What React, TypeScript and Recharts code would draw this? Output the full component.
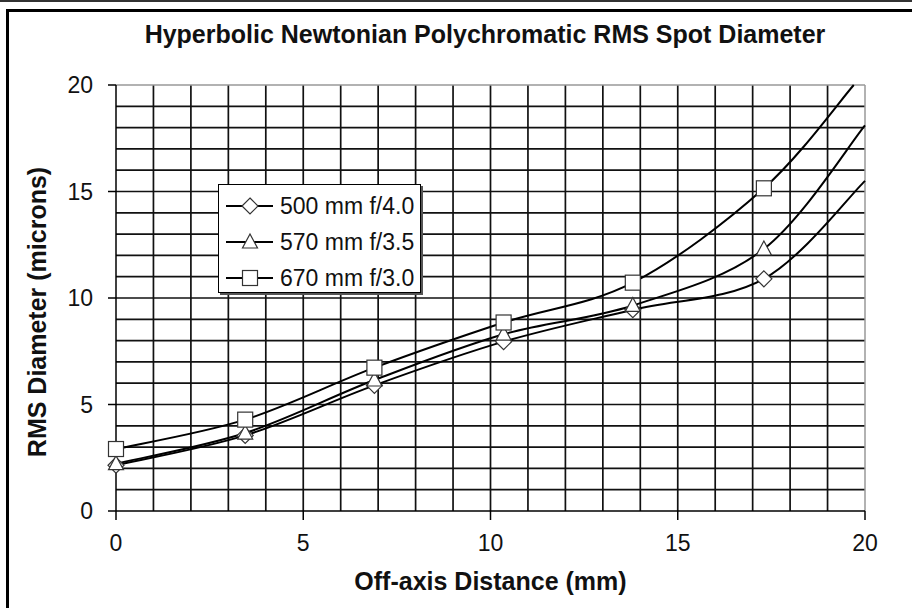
import React from 'react';
import { LineChart, Line, XAxis, YAxis, ReferenceLine, Legend, Label } from 'recharts';

const FONT = '"Liberation Sans", Arial, Helvetica, sans-serif';

// Off-axis distance (mm) of each traced field point; the last entry is where the curve leaves the plot frame
const x500 = [0, 3.45, 6.9, 10.35, 13.8, 17.3, 20];
const y500 = [2.15, 3.55, 5.9, 7.95, 9.45, 10.9, 15.5];
const x570 = [0, 3.45, 6.9, 10.35, 13.8, 17.3, 20];
const y570 = [2.22, 3.66, 6.15, 8.3, 9.65, 12.3, 18.1];
const x670 = [0, 3.45, 6.9, 10.35, 13.8, 17.3, 19.7];
const y670 = [2.91, 4.29, 6.73, 8.85, 10.72, 15.15, 20];
const markerCount = 6;

const seriesNames = ['500 mm f/4.0', '570 mm f/3.5', '670 mm f/3.0'];
const seriesShapes = ['diamond', 'triangle', 'square'];

const xTicks = [0, 5, 10, 15, 20];
const yTicks = [0, 5, 10, 15, 20];
const gridX = [1, 2, 3, 4, 5, 6, 7, 8, 9, 10, 11, 12, 13, 14, 15, 16, 17, 18, 19];
const gridY = [1, 2, 3, 4, 5, 6, 7, 8, 9, 10, 11, 12, 13, 14, 15, 16, 17, 18, 19];

const toRows = (xs: number[], ys: number[]) => xs.map((x, i) => ({ x, y: ys[i] }));
const data500 = toRows(x500, y500);
const data570 = toRows(x570, y570);
const data670 = toRows(x670, y670);

// Spreadsheet-style smoothed line (Catmull-Rom through the points)
function smoothCurve(context: any) {
  let pts: [number, number][] = [];
  return {
    areaStart() {},
    areaEnd() {},
    lineStart() {
      pts = [];
    },
    point(x: number, y: number) {
      pts.push([+x, +y]);
    },
    lineEnd() {
      const n = pts.length;
      if (!n) return;
      context.moveTo(pts[0][0], pts[0][1]);
      for (let i = 0; i < n - 1; i++) {
        const p0 = pts[i - 1] || pts[i];
        const p1 = pts[i];
        const p2 = pts[i + 1];
        const p3 = pts[i + 2] || p2;
        context.bezierCurveTo(
          p1[0] + (p2[0] - p0[0]) / 6,
          p1[1] + (p2[1] - p0[1]) / 6,
          p2[0] - (p3[0] - p1[0]) / 6,
          p2[1] - (p3[1] - p1[1]) / 6,
          p2[0],
          p2[1]
        );
      }
    },
  };
}

function Marker({ shape, cx, cy }: { shape: string; cx: number; cy: number }) {
  const common = { fill: '#fff', stroke: '#333', strokeWidth: 1.2 };
  if (shape === 'diamond') {
    const r = 8;
    return <polygon points={`${cx},${cy - r} ${cx + r},${cy} ${cx},${cy + r} ${cx - r},${cy}`} {...common} />;
  }
  if (shape === 'triangle') {
    return <polygon points={`${cx},${cy - 8} ${cx + 7.5},${cy + 6} ${cx - 7.5},${cy + 6}`} {...common} />;
  }
  return <rect x={cx - 7.5} y={cy - 7.5} width={15} height={15} {...common} />;
}

const makeDot = (shape: string) => (props: any) => {
  const { cx, cy, index } = props;
  if (index >= markerCount || cx == null || cy == null) return <g key={`d-${shape}-${index}`} />;
  return (
    <g key={`d-${shape}-${index}`}>
      <Marker shape={shape} cx={cx} cy={cy} />
    </g>
  );
};

const renderLegend = () => (
  <div
    style={{
      width: 203,
      height: 109,
      boxSizing: 'border-box',
      background: '#fff',
      border: '1px solid #000',
      boxShadow: '2px 2px 0 #555',
      paddingTop: 3,
      fontFamily: FONT,
    }}
  >
    {seriesNames.map((name, i) => (
      <div key={name} style={{ display: 'flex', alignItems: 'center', height: 36 }}>
        <svg width={61} height={24} style={{ marginLeft: 7, flex: 'none' }}>
          <line x1={0} y1={12} x2={47} y2={12} stroke="#000" strokeWidth={2} />
          <Marker shape={seriesShapes[i]} cx={24} cy={12} />
        </svg>
        <span style={{ fontSize: 23, color: '#111', whiteSpace: 'nowrap', marginLeft: -7 }}>{name}</span>
      </div>
    ))}
  </div>
);

export default function App() {
  return (
    <div style={{ position: 'absolute', left: 0, top: 0, width: 912, height: 608, background: '#fff', overflow: 'hidden' }}>
      <div style={{ position: 'absolute', left: 0, top: 0, width: 912, height: 2, background: '#333' }} />
      <div
        style={{
          position: 'absolute',
          left: 6,
          top: 9,
          width: 906,
          height: 599,
          borderLeft: '3px solid #000',
          borderTop: '3px solid #000',
          boxSizing: 'border-box',
        }}
      />
      <div
        style={{
          position: 'absolute',
          left: 0,
          top: 20,
          width: 970,
          textAlign: 'center',
          fontFamily: FONT,
          fontWeight: 'bold',
          fontSize: 25,
          lineHeight: '29px',
          color: '#111',
          whiteSpace: 'nowrap',
        }}
      >
        Hyperbolic Newtonian Polychromatic RMS Spot Diameter
      </div>
      <div style={{ position: 'absolute', left: 0, top: 0 }}>
        <LineChart width={912} height={608} margin={{ top: 85, right: 47, bottom: 37, left: 46 }}>
          <XAxis
            type="number"
            dataKey="x"
            domain={[0, 20]}
            ticks={xTicks}
            interval={0}
            height={60}
            tickSize={9}
            tickMargin={15}
            axisLine={{ stroke: '#000', strokeWidth: 1.5 }}
            tickLine={{ stroke: '#000', strokeWidth: 1.5 }}
            tick={{ fontSize: 23, fill: '#111', fontFamily: FONT }}
          >
            <Label
              content={(p: any) => {
                const vb = p.viewBox || {};
                return (
                  <text
                    x={vb.x + vb.width / 2}
                    y={vb.y + 79}
                    textAnchor="middle"
                    fontFamily={FONT}
                    fontWeight="bold"
                    fontSize={25}
                    fill="#111"
                  >
                    Off-axis Distance (mm)
                  </text>
                );
              }}
            />
          </XAxis>
          <YAxis
            type="number"
            dataKey="y"
            domain={[0, 20]}
            ticks={yTicks}
            interval={0}
            width={70}
            tickSize={8}
            tickMargin={15}
            axisLine={{ stroke: '#000', strokeWidth: 1.5 }}
            tickLine={{ stroke: '#000', strokeWidth: 1.5 }}
            tick={{ fontSize: 23, fill: '#111', fontFamily: FONT }}
          >
            <Label
              content={(p: any) => {
                const vb = p.viewBox || {};
                const cx = vb.x - 9;
                const cy = vb.y + vb.height / 2 + 14;
                return (
                  <text
                    x={cx}
                    y={cy}
                    transform={`rotate(-90 ${cx} ${cy})`}
                    textAnchor="middle"
                    dominantBaseline="central"
                    fontFamily={FONT}
                    fontWeight="bold"
                    fontSize={25}
                    fill="#111"
                  >
                    RMS Diameter (microns)
                  </text>
                );
              }}
            />
          </YAxis>
          {gridX.map((v) => (
            <ReferenceLine key={`gx${v}`} x={v} stroke="#111" strokeWidth={1.7} />
          ))}
          {gridY.map((v) => (
            <ReferenceLine key={`gy${v}`} y={v} stroke="#111" strokeWidth={1.7} />
          ))}
          <ReferenceLine x={20} stroke="#999" strokeWidth={1.5} />
          <ReferenceLine y={20} stroke="#999" strokeWidth={1.5} />
          <Legend
            layout="horizontal"
            verticalAlign="middle"
            align="center"
            content={renderLegend}
            wrapperStyle={{ left: 218, top: 184, width: 203, height: 109 }}
          />
          <Line
            data={data500}
            dataKey="y"
            name={seriesNames[0]}
            type={smoothCurve as any}
            stroke="#000"
            strokeWidth={2}
            dot={makeDot('diamond')}
            activeDot={false}
            isAnimationActive={false}
          />
          <Line
            data={data570}
            dataKey="y"
            name={seriesNames[1]}
            type={smoothCurve as any}
            stroke="#000"
            strokeWidth={2}
            dot={makeDot('triangle')}
            activeDot={false}
            isAnimationActive={false}
          />
          <Line
            data={data670}
            dataKey="y"
            name={seriesNames[2]}
            type={smoothCurve as any}
            stroke="#000"
            strokeWidth={2}
            dot={makeDot('square')}
            activeDot={false}
            isAnimationActive={false}
          />
        </LineChart>
      </div>
    </div>
  );
}
